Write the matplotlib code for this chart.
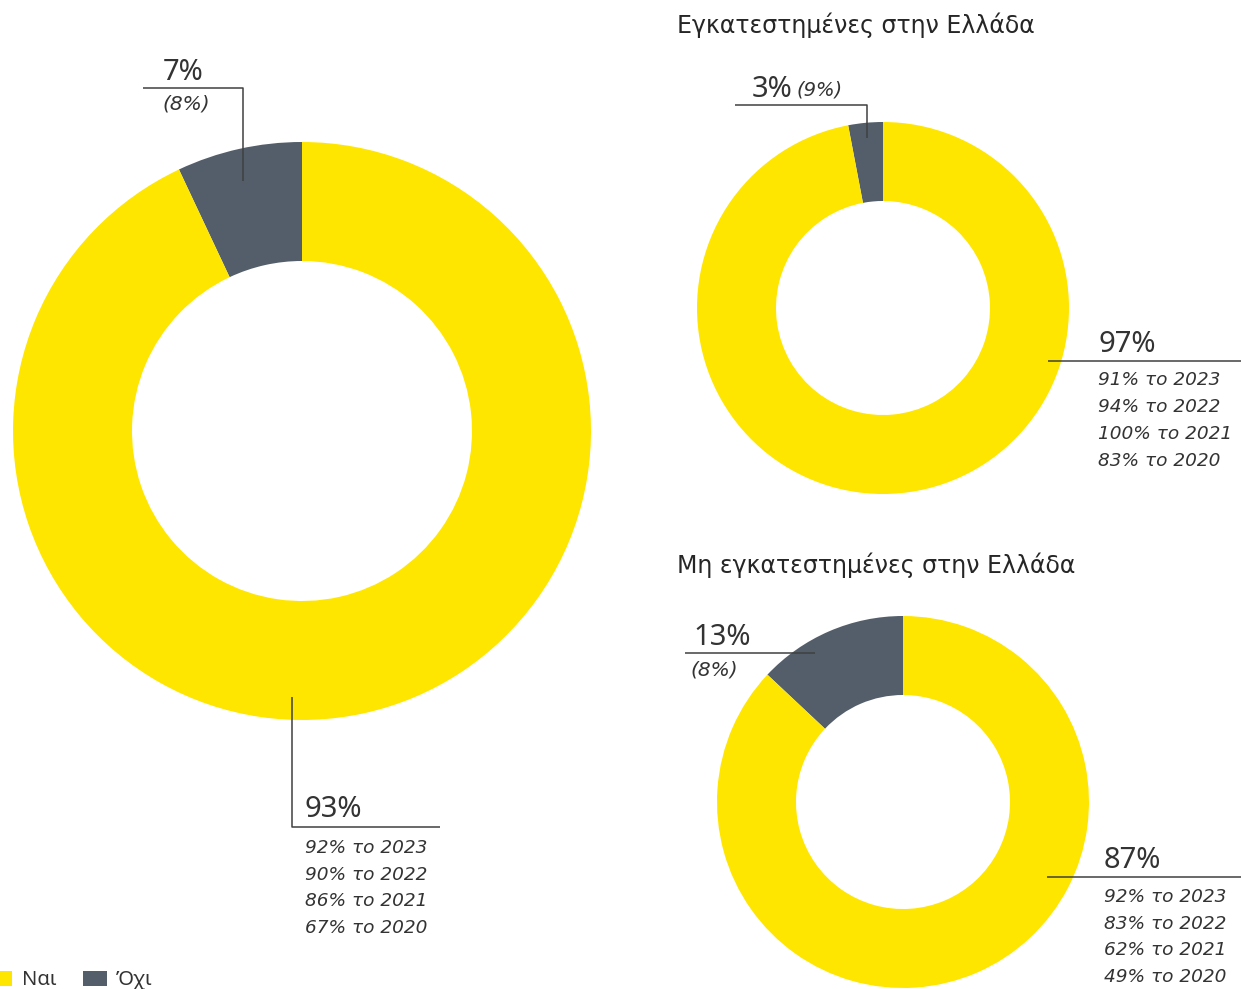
import matplotlib
matplotlib.use("Agg")
import matplotlib.pyplot as plt
from matplotlib.patches import Rectangle

plt.rcParams['font.family'] = ['Noto Sans', 'DejaVu Sans']

YELLOW = '#FFE600'
GREY = '#535E6A'
TEXT = '#333333'
LINE = '#404040'

# δεδομένα
labels = ['Όχι', 'Ναι']
total = [7, 93]
total_prev = '(8%)'
total_hist = ['92% το 2023', '90% το 2022', '86% το 2021', '67% το 2020']

gr_title = 'Εγκατεστημένες στην Ελλάδα'
gr = [3, 97]
gr_prev = '(9%)'
gr_hist = ['91% το 2023', '94% το 2022', '100% το 2021', '83% το 2020']

ngr_title = 'Μη εγκατεστημένες στην Ελλάδα'
ngr = [13, 87]
ngr_prev = '(8%)'
ngr_hist = ['92% το 2023', '83% το 2022', '62% το 2021', '49% το 2020']

W, H = 1241, 989
fig = plt.figure(figsize=(W / 100, H / 100), dpi=100)
ax = fig.add_axes([0, 0, 1, 1])


def donut(vals, cx, cy, r, width):
    ax.pie(vals, colors=[GREY, YELLOW], startangle=270, counterclock=False,
           center=(cx, cy), radius=r, frame=True,
           wedgeprops=dict(width=width, linewidth=0))


donut(total, 302, 431, 289, 119)
donut(gr, 883, 308, 186, 79)
donut(ngr, 903, 802, 186, 79)

ax.set_xlim(0, W)
ax.set_ylim(H, 0)
ax.set_aspect('equal')
ax.axis('off')


def seg(xs, ys):
    ax.plot(xs, ys, color=LINE, lw=1.1, solid_capstyle='butt')


def big(x, y, s):
    ax.text(x, y, s, fontsize=21, color=TEXT, va='baseline', ha='left')


def small(x, y, s, fs=13.3):
    ax.text(x, y, s, fontsize=fs, color=TEXT, va='baseline', ha='left',
            style='italic', family='DejaVu Sans')


def title(x, y, s):
    ax.text(x, y, s, fontsize=17, color='#262626', va='baseline',
            ha='left', family='DejaVu Sans')


# μεγάλο γράφημα
seg([143, 243, 243], [88, 88, 181])
big(163, 80, f'{total[0]}%')
small(162, 109, total_prev, fs=14.5)
seg([292, 292, 440], [697, 827, 827])
big(305, 817, f'{total[1]}%')
for i, s in enumerate(total_hist):
    small(305, 853 + i * 26.7, s)

# Ελλάδα
title(677, 33, gr_title)
seg([735, 867, 867], [105, 105, 138])
big(752, 97, f'{gr[0]}%')
small(797, 95, gr_prev, fs=14)
seg([1048, 1241], [361, 361])
big(1098, 352, f'{gr[1]}%')
for i, s in enumerate(gr_hist):
    small(1098, 385 + i * 27, s)

# εκτός Ελλάδας
title(677, 573, ngr_title)
seg([685, 815], [653, 653])
big(693, 645, f'{ngr[0]}%')
small(690, 676, ngr_prev, fs=14.5)
seg([1047, 1241], [877, 877])
big(1104, 868, f'{ngr[1]}%')
for i, s in enumerate(ngr_hist):
    small(1104, 902 + i * 26.7, s)

# υπόμνημα
ax.add_patch(Rectangle((0, 971), 12, 15, color=YELLOW, lw=0))
ax.text(22, 985, labels[1], fontsize=14.5, color=TEXT, va='baseline')
ax.add_patch(Rectangle((83, 971), 24, 15, color=GREY, lw=0))
ax.text(116, 985, labels[0], fontsize=14.5, color=TEXT, va='baseline')

fig.savefig('out.png', dpi=100)
